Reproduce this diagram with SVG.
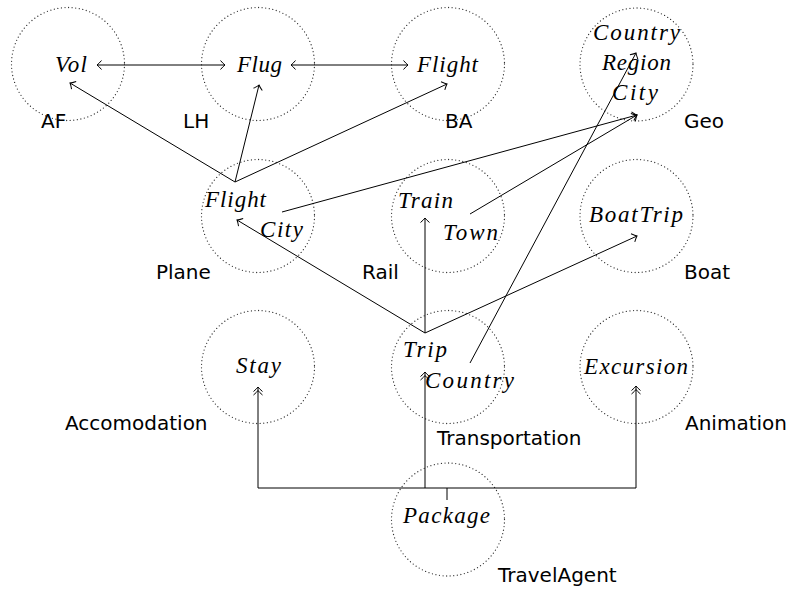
<svg xmlns="http://www.w3.org/2000/svg" width="790" height="589" viewBox="0 0 790 589">
<style>
.c{fill:none;stroke:#333;stroke-width:1.3;stroke-dasharray:0 3.6;stroke-linecap:round}
.m{font-family:"Liberation Serif","DejaVu Serif",serif;font-style:italic;font-size:23px;fill:#000}
.l{font-family:"DejaVu Sans","Liberation Sans",sans-serif;font-size:20px;fill:#000}
.e{fill:none;stroke:#000;stroke-width:1}
.a{marker-end:url(#arr)}
.b{marker-start:url(#arr);marker-end:url(#arr)}
.d{marker-end:url(#dbl)}
</style>
<defs>
<marker id="arr" viewBox="-6 -6 8 12" markerWidth="8" markerHeight="12" refX="0" refY="0" orient="auto-start-reverse" markerUnits="userSpaceOnUse" overflow="visible">
<path d="M-4.5,-4.5 Q-1.5,-1 0,0 Q-1.5,1 -4.5,4.5" fill="none" stroke="#000" stroke-width="1"/>
</marker>
<marker id="dbl" viewBox="-10 -6 12 12" markerWidth="12" markerHeight="12" refX="0" refY="0" orient="auto" markerUnits="userSpaceOnUse" overflow="visible">
<path d="M-4.5,-4.5 Q-1.5,-1 0,0 Q-1.5,1 -4.5,4.5 M-8,-4.5 Q-5,-1 -3.5,0 Q-5,1 -8,4.5" fill="none" stroke="#000" stroke-width="1"/>
</marker>
</defs>
<g id="AF"><circle class="c" cx="68" cy="64" r="56.5"/><text class="m" x="55" y="72" textLength="32">Vol</text><text class="l" x="41" y="128">AF</text></g>
<g id="LH"><circle class="c" cx="258" cy="64" r="56.5"/><text class="m" x="237" y="72" textLength="45">Flug</text><text class="l" x="183" y="128">LH</text></g>
<g id="BA"><circle class="c" cx="448" cy="64" r="56.5"/><text class="m" x="417" y="72" textLength="61">Flight</text><text class="l" x="445" y="128">BA</text></g>
<g id="Geo"><circle class="c" cx="636.5" cy="64.5" r="56.5"/><text class="m" x="593" y="40" textLength="87">Country</text><text class="m" x="602" y="70" textLength="69">Region</text><text class="m" x="612" y="100" textLength="46">City</text><text class="l" x="684" y="128">Geo</text></g>
<g id="Plane"><circle class="c" cx="258" cy="216" r="56.5"/><text class="m" x="205" y="207" textLength="61">Flight</text><text class="m" x="260" y="237" textLength="43">City</text><text class="l" x="156" y="279">Plane</text></g>
<g id="Rail"><circle class="c" cx="448" cy="216" r="56.5"/><text class="m" x="398" y="208" textLength="55">Train</text><text class="m" x="443" y="240" textLength="55">Town</text><text class="l" x="362" y="279">Rail</text></g>
<g id="Boat"><circle class="c" cx="636.5" cy="216" r="56.5"/><text class="m" x="589" y="222" textLength="94">BoatTrip</text><text class="l" x="684" y="279">Boat</text></g>
<g id="Accomodation"><circle class="c" cx="258" cy="367" r="56.5"/><text class="m" x="236" y="373" textLength="45">Stay</text><text class="l" x="65" y="430">Accomodation</text></g>
<g id="Transportation"><circle class="c" cx="448" cy="367" r="56.5"/><text class="m" x="403" y="357" textLength="44">Trip</text><text class="m" x="425" y="388" textLength="89">Country</text><text class="l" x="437" y="445">Transportation</text></g>
<g id="Animation"><circle class="c" cx="636.5" cy="367" r="56.5"/><text class="m" x="584" y="374" textLength="104">Excursion</text><text class="l" x="685" y="430">Animation</text></g>
<g id="TravelAgent"><circle class="c" cx="448" cy="519.5" r="56.5"/><text class="m" x="403" y="523" textLength="87">Package</text><text class="l" x="498" y="582">TravelAgent</text></g>
<g id="connectors">
<path class="e b" d="M97,65 L225,65"/>
<path class="e b" d="M291,65 L408,65"/>
<path class="e a" d="M235,182 L70,83"/>
<path class="e a" d="M235,182 L259,85"/>
<path class="e a" d="M235,182 L447,84"/>
<path class="e a" d="M282,212 L637,115"/>
<path class="e a" d="M470,214 L637,115"/>
<path class="e a" d="M470,363 L636,53"/>
<path class="e a" d="M425,333 L237,220"/>
<path class="e a" d="M425,333 L425,218"/>
<path class="e a" d="M425,333 L637,236"/>
<path class="e" d="M447,500 L447,488 M258,488 L636,488"/>
<path class="e d" d="M258,488 L258,387"/>
<path class="e d" d="M425,488 L425,372"/>
<path class="e d" d="M636,488 L636,386"/>
</g>
</svg>
